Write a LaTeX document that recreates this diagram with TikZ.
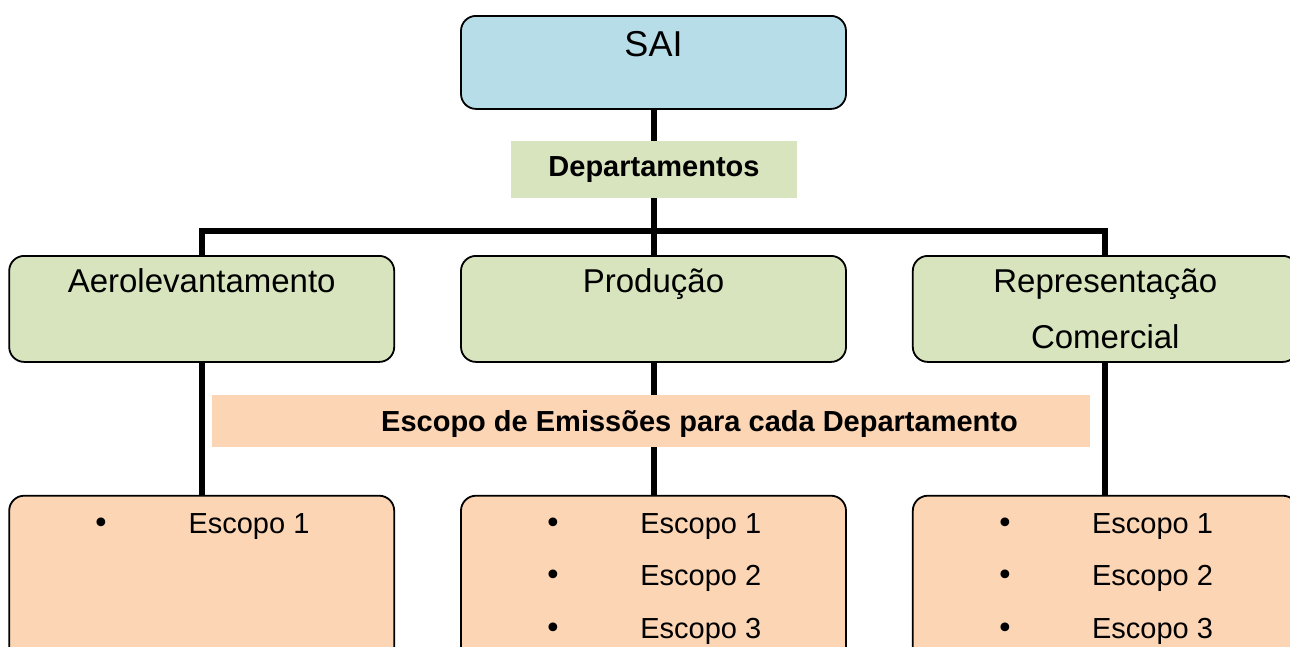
\documentclass[tikz,border=0pt]{standalone}
\usepackage{fontspec}
\setmainfont{Liberation Sans}
\newfontfamily\dotfont{DejaVu Sans}
\usetikzlibrary{positioning,backgrounds}
\definecolor{saiblue}{HTML}{B7DEE8}
\definecolor{deptgreen}{HTML}{D7E4BD}
\definecolor{escpeach}{HTML}{FCD5B5}

\begin{document}
\begin{tikzpicture}[x=1pt,y=-1pt,
		box/.style={draw=black, line width=1.8pt, rounded corners=15pt, minimum width=385pt, anchor=north},
		dept/.style={box, fill=deptgreen, minimum height=106pt},
		escbox/.style={box, fill=escpeach, minimum height=190pt},
		band/.style={inner sep=0pt, font=\fontsize{29}{35}\selectfont\bfseries},
		head/.style={anchor=base, inner sep=0pt, align=center, font=\fontsize{33}{56}\selectfont},
		item/.style={inner sep=0pt, font=\fontsize{29}{35}\selectfont},
		link/.style={line width=6pt}]
	\useasboundingbox (0,0) rectangle (1290,646);

	\node [box, fill=saiblue, minimum height=93pt] (sai) at (653.5,15) {};
	\node [head, font=\fontsize{36}{43}\selectfont] (sait) at ([yshift=-41pt]sai.north) {SAI};
	\node [band, fill=deptgreen, minimum width=286pt, minimum height=57pt] (deps) at (654,169.5) {Departamentos};

	\node [dept] (prod) at (653.5,255) {};
	\node [dept, left=65pt of prod] (aero) {};
	\node [dept, right=65pt of prod] (rep) {};
	\node [head] (aerot) at ([yshift=-37pt]aero.north) {Aerolevantamento};
	\node [head] (prodt) at ([yshift=-37pt]prod.north) {Produção};
	% base is the last line here
	\node [head] (rept) at ([yshift=-93pt]rep.north) {Representação\\Comercial};

	\node [band, fill=escpeach, minimum width=878pt, minimum height=52pt, text height=24pt, text depth=3pt] (escs) at (651,421)
		{\hspace{97pt}Escopo de Emissões para cada Departamento};

	\node [escbox, below=132pt of aero] (aeroesc) {};
	\node [escbox, below=132pt of prod] (prodesc) {};
	\node [escbox, below=132pt of rep] (repesc) {};

	\foreach \dep/\n in {aeroesc/1, prodesc/3, repesc/3}
		\foreach \i in {1,...,\n} {
			\node [item, font=\fontsize{30}{30}\dotfont, anchor=base] (\dep-dot\i) at ([shift={({93pt},{-38.5pt-52.5pt*(\i-1)})}]\dep.north west) {•};
			\node [item, anchor=base west] (\dep-txt\i) at ([shift={({180pt},{-38.5pt-52.5pt*(\i-1)})}]\dep.north west) {Escopo \i};
		}

	\begin{scope}[on background layer]
		\draw [link] (sai) -- (prod);
		\draw [link] (aero.north) -- ++(0,-24) -| (rep.north);
		\foreach \dep in {aero, prod, rep}
			\draw [link] (\dep) -- (\dep esc);
	\end{scope}
\end{tikzpicture}
\end{document}
